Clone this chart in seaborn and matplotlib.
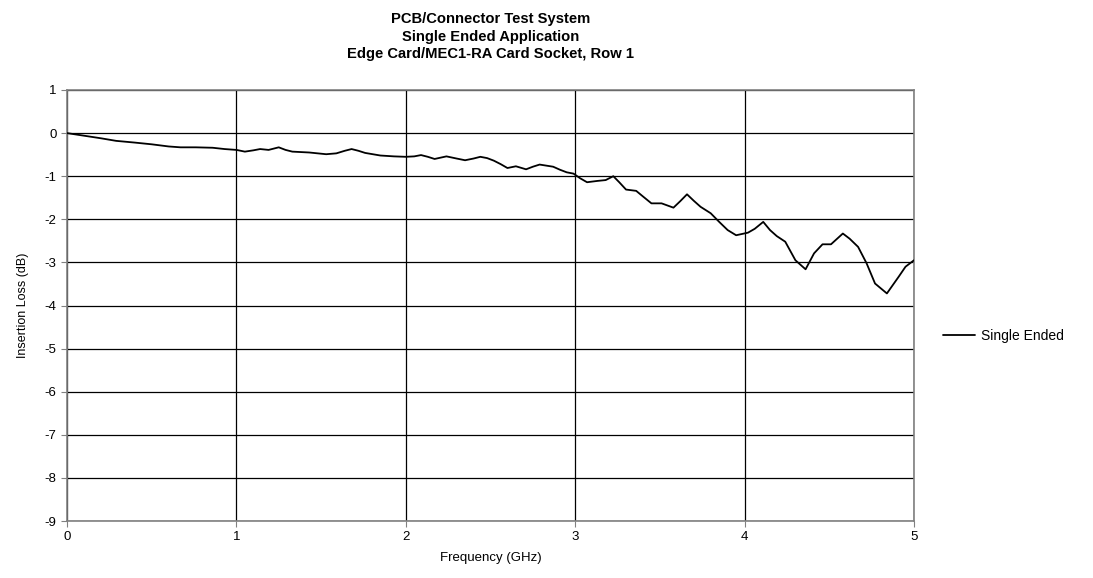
import matplotlib
matplotlib.use("Agg")
import matplotlib.pyplot as plt
import seaborn as sns
import pandas as pd

freq_ghz = [0.00, 0.10, 0.20, 0.29, 0.40, 0.50, 0.60, 0.67, 0.76, 0.86, 0.93, 1.00,
            1.05, 1.10, 1.14, 1.19, 1.25, 1.29, 1.33, 1.43, 1.53, 1.59, 1.64, 1.68,
            1.72, 1.76, 1.85, 1.93, 2.00, 2.05, 2.09, 2.13, 2.17, 2.24, 2.30, 2.35,
            2.40, 2.44, 2.48, 2.52, 2.56, 2.60, 2.65, 2.71, 2.75, 2.79, 2.87, 2.91,
            2.95, 2.99, 3.03, 3.07, 3.13, 3.18, 3.225, 3.26, 3.30, 3.36, 3.40, 3.45,
            3.51, 3.58, 3.62, 3.66, 3.70, 3.74, 3.80, 3.85, 3.90, 3.95, 4.02, 4.06,
            4.11, 4.15, 4.19, 4.24, 4.30, 4.36, 4.41, 4.46, 4.51, 4.58, 4.62, 4.67,
            4.72, 4.77, 4.84, 4.91, 4.95, 5.00]
insertion_loss_db = [0.00, -0.06, -0.12, -0.18, -0.22, -0.26, -0.31, -0.33, -0.33, -0.34, -0.37, -0.39,
                     -0.43, -0.40, -0.37, -0.39, -0.33, -0.39, -0.43, -0.45, -0.49, -0.47, -0.41, -0.37,
                     -0.41, -0.46, -0.52, -0.54, -0.55, -0.54, -0.51, -0.55, -0.60, -0.54, -0.59, -0.63,
                     -0.59, -0.55, -0.58, -0.64, -0.72, -0.81, -0.77, -0.84, -0.78, -0.73, -0.78, -0.85,
                     -0.91, -0.94, -1.05, -1.14, -1.11, -1.09, -1.00, -1.14, -1.31, -1.34, -1.47, -1.63,
                     -1.63, -1.73, -1.58, -1.42, -1.57, -1.71, -1.86, -2.06, -2.25, -2.37, -2.31, -2.22,
                     -2.06, -2.25, -2.39, -2.52, -2.95, -3.16, -2.79, -2.58, -2.58, -2.33, -2.45, -2.64,
                     -3.02, -3.49, -3.72, -3.33, -3.10, -2.95]
series_name = "Single Ended"
x_ticks = [0, 1, 2, 3, 4, 5]
y_ticks = [1, 0, -1, -2, -3, -4, -5, -6, -7, -8, -9]

sns.set_theme(style="white")
plt.rcParams['font.family'] = ['Liberation Sans', 'DejaVu Sans']
plt.rcParams['axes.unicode_minus'] = False
plt.rcParams['text.color'] = 'black'
plt.rcParams['axes.labelcolor'] = 'black'
plt.rcParams['xtick.color'] = 'black'
plt.rcParams['ytick.color'] = 'black'

df = pd.DataFrame({"Frequency": freq_ghz, "Loss": insertion_loss_db, "Series": series_name})

fig = plt.figure(figsize=(10.93, 5.78), dpi=100)
ax = fig.add_axes([67/1093, 1-521/578, (914-67)/1093, (521-90)/578])

sns.lineplot(data=df, x="Frequency", y="Loss", hue="Series", palette=["black"],
             linewidth=1.3, ax=ax, legend=True, zorder=3)

ax.set_xlim(0, 5)
ax.set_ylim(-9, 1)
ax.set_xticks(x_ticks)
ax.set_yticks(y_ticks)
ax.tick_params(axis="both", labelsize=9.5, length=4, width=0.8,
               direction="out", bottom=True, left=True, labelcolor="black", color="#808080")
ax.grid(True, color="black", linewidth=0.9)
for s in ax.spines.values():
    s.set_color("#808080")
    s.set_linewidth(1.2)

ax.set_xlabel("Frequency (GHz)", fontsize=9.5, labelpad=6, color="black")
ax.set_ylabel("Insertion Loss (dB)", fontsize=9, labelpad=11, color="black")
ax.set_title("PCB/Connector Test System\nSingle Ended Application\nEdge Card/MEC1-RA Card Socket, Row 1",
             fontsize=10.6, fontweight="bold", linespacing=1.32, pad=23, color="black")

leg = ax.legend(loc="center left", bbox_to_anchor=(1.02, 0.43), frameon=False,
                fontsize=10, handlelength=2.3, handletextpad=0.4)
for t in leg.get_texts():
    t.set_color("black")

fig.savefig("out.png", dpi=100, facecolor="white")
